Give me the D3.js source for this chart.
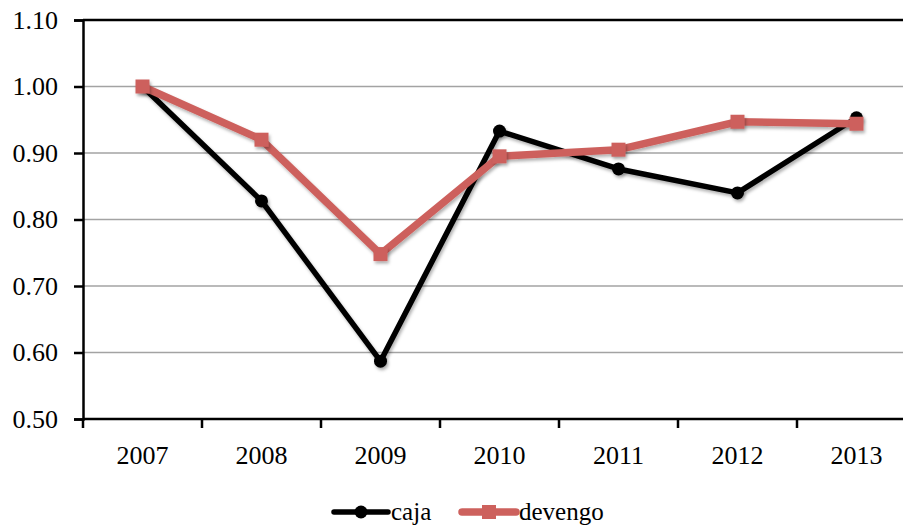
<!DOCTYPE html>
<html>
<head>
<meta charset="utf-8">
<script src="https://cdn.jsdelivr.net/npm/d3@7"></script>
<style>
  html, body { margin: 0; padding: 0; background: #fff; overflow: hidden; }
  svg { display: block; font-family: "Liberation Serif", "DejaVu Serif", serif; }
</style>
</head>
<body>
<svg id="chart" width="903" height="528"></svg>
<script>
// Years on the category axis
const years = ["2007", "2008", "2009", "2010", "2011", "2012", "2013"];
// Index values, base 2007 = 1.00
const caja    = [1.000, 0.828, 0.587, 0.933, 0.876, 0.840, 0.953];
const devengo = [1.000, 0.920, 0.748, 0.895, 0.905, 0.947, 0.944];
// Value axis ticks
const yTicks = [0.50, 0.60, 0.70, 0.80, 0.90, 1.00, 1.10];

const svg = d3.select("#chart");
const plotL = 83, plotR = 916, plotT = 20, plotB = 419;

const x = d3.scaleBand().domain(years).range([plotL, plotR]).padding(0);
const y = d3.scaleLinear().domain([0.5, 1.1]).range([plotB, plotT]);

// soft shadow under markers and lines
const defs = svg.append("defs");
const f = defs.append("filter").attr("id", "shadow")
  .attr("x", "-50%").attr("y", "-50%").attr("width", "200%").attr("height", "200%");
f.append("feDropShadow").attr("dx", 1.5).attr("dy", 2.5).attr("stdDeviation", 1.8)
  .attr("flood-color", "#000").attr("flood-opacity", 0.3);

// horizontal gridlines
svg.append("g").selectAll("line").data(yTicks.filter(t => t > 0.5 && t < 1.1)).join("line")
  .attr("x1", plotL).attr("x2", plotR)
  .attr("y1", d => y(d)).attr("y2", d => y(d))
  .attr("stroke", "#a3a3a3").attr("stroke-width", 1.5);

// top border of plot area
svg.append("line").attr("x1", plotL).attr("x2", plotR)
  .attr("y1", y(1.1)).attr("y2", y(1.1))
  .attr("stroke", "#000").attr("stroke-width", 2.5);

// value axis
const yAxis = d3.axisLeft(y).tickValues(yTicks).tickFormat(d3.format(".2f"))
  .tickSize(9).tickPadding(16);
const gy = svg.append("g").attr("transform", `translate(${plotL},0)`).call(yAxis);
gy.select(".domain").attr("stroke", "#000").attr("stroke-width", 2.5);
gy.selectAll(".tick line").attr("stroke", "#000").attr("stroke-width", 2.5);
gy.selectAll("text").attr("font-size", 26).attr("fill", "#000")
  .attr("font-family", "Liberation Serif, serif");

// category axis with ticks between categories
const bounds = years.map(d => x(d)).concat([plotR]);
svg.append("line").attr("x1", plotL).attr("x2", plotR)
  .attr("y1", plotB).attr("y2", plotB)
  .attr("stroke", "#000").attr("stroke-width", 2.5);
svg.append("g").selectAll("line").data(bounds).join("line")
  .attr("x1", d => d).attr("x2", d => d)
  .attr("y1", plotB).attr("y2", plotB + 9)
  .attr("stroke", "#000").attr("stroke-width", 2.5);
svg.append("g").selectAll("text").data(years).join("text")
  .attr("x", d => x(d) + x.bandwidth() / 2)
  .attr("y", 464)
  .attr("text-anchor", "middle")
  .attr("font-size", 26)
  .text(d => d);

const cx = (d, i) => x(years[i]) + x.bandwidth() / 2;
const line = d3.line().x((d, i) => cx(d, i)).y(d => y(d));

// caja series
svg.append("path").datum(caja).attr("d", line)
  .attr("fill", "none").attr("stroke", "#000").attr("stroke-width", 5.5)
  .attr("stroke-linejoin", "round").attr("filter", "url(#shadow)");
svg.append("g").attr("filter", "url(#shadow)").selectAll("circle").data(caja).join("circle")
  .attr("cx", cx).attr("cy", d => y(d)).attr("r", 6.5).attr("fill", "#000");

// devengo series
const red = "#cd615d";
svg.append("path").datum(devengo).attr("d", line)
  .attr("fill", "none").attr("stroke", red).attr("stroke-width", 7.5)
  .attr("stroke-linejoin", "round").attr("filter", "url(#shadow)");
svg.append("g").attr("filter", "url(#shadow)").selectAll("rect").data(devengo).join("rect")
  .attr("x", (d, i) => cx(d, i) - 7).attr("y", d => y(d) - 7)
  .attr("width", 14).attr("height", 14).attr("fill", red);

// legend along the bottom edge
const lg = svg.append("g");
const ly = 512;
lg.append("line").attr("x1", 334).attr("x2", 388).attr("y1", ly).attr("y2", ly)
  .attr("stroke", "#000").attr("stroke-width", 5.5).attr("stroke-linecap", "round");
lg.append("circle").attr("cx", 361).attr("cy", ly).attr("r", 6.5).attr("fill", "#000");
lg.append("text").attr("x", 391).attr("y", 520).attr("font-size", 25).text("caja");
lg.append("line").attr("x1", 462).attr("x2", 516).attr("y1", ly).attr("y2", ly)
  .attr("stroke", red).attr("stroke-width", 7.5).attr("stroke-linecap", "round");
lg.append("rect").attr("x", 482).attr("y", ly - 7).attr("width", 14).attr("height", 14).attr("fill", red);
lg.append("text").attr("x", 519).attr("y", 520).attr("font-size", 25).text("devengo");
</script>
</body>
</html>
